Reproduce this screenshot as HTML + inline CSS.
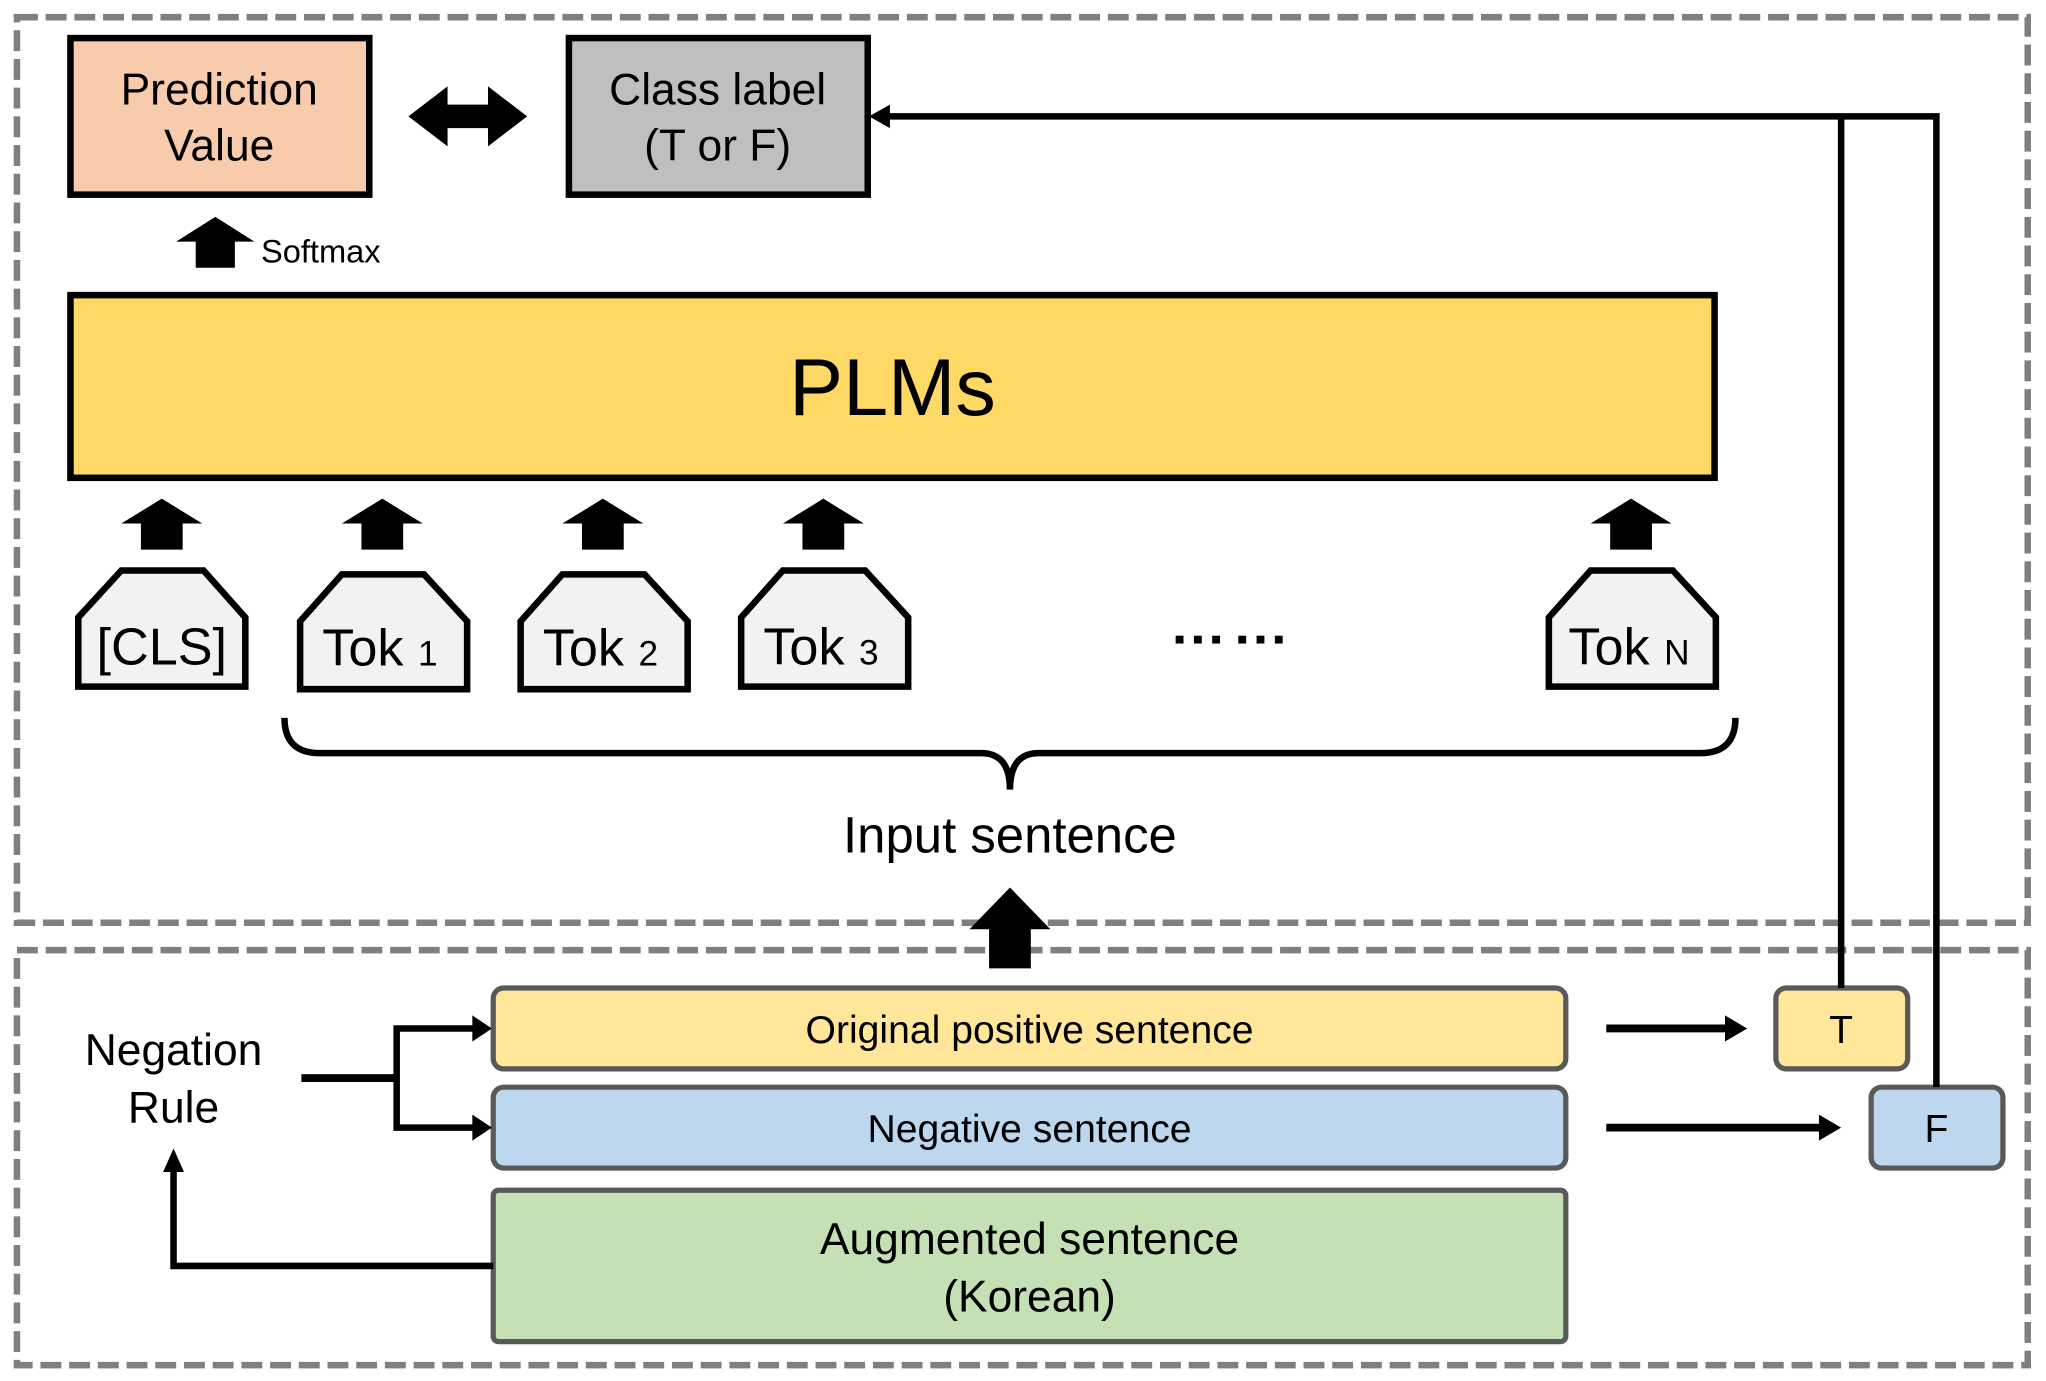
<!DOCTYPE html>
<html><head><meta charset="utf-8"><style>
html,body{margin:0;padding:0;background:#fff}
svg{display:block}
text{font-family:"Liberation Sans","DejaVu Sans",sans-serif;fill:#000}
</style></head><body>
<svg width="2046" height="1381" viewBox="0 0 1568 1058" xmlns="http://www.w3.org/2000/svg">
<rect x="0" y="0" width="1568" height="1058" fill="#fff"/>
<rect x="13" y="13" width="1541" height="694" fill="none" stroke="#7f7f7f" stroke-width="5" stroke-dasharray="16 6"/>
<rect x="13" y="728" width="1541" height="318" fill="none" stroke="#7f7f7f" stroke-width="5" stroke-dasharray="16 6"/>

<rect x="54" y="29" width="229" height="120" fill="#f8cbad" stroke="#000" stroke-width="5"/>
<text x="168" y="80" font-size="34" text-anchor="middle">Prediction</text>
<text x="168" y="123" font-size="34" text-anchor="middle">Value</text>
<rect x="436" y="29" width="229" height="120" fill="#bfbfbf" stroke="#000" stroke-width="5"/>
<text x="550" y="80" font-size="34" text-anchor="middle">Class label</text>
<text x="550" y="123" font-size="34" text-anchor="middle">(T or F)</text>
<polygon points="313,89 343,66 343,80 374,80 374,66 404,89 374,112 374,98 343,98 343,112" fill="#000"/>

<polygon points="165,166 195,185 180,185 180,205 150,205 150,185 135,185" fill="#000"/>
<text x="200" y="201" font-size="25">Softmax</text>

<rect x="54" y="226" width="1260" height="140" fill="#ffd966" stroke="#000" stroke-width="5"/>
<text x="684" y="318" font-size="62" text-anchor="middle">PLMs</text>

<g fill="#000">
<polygon points="124,382 155,401 140,401 140,421 108,421 108,401 93,401"/>
<polygon points="293,382 324,401 309,401 309,421 277,421 277,401 262,401"/>
<polygon points="462,382 493,401 478,401 478,421 446,421 446,401 431,401"/>
<polygon points="631,382 662,401 647,401 647,421 615,421 615,401 600,401"/>
<polygon points="1250,382 1281,401 1266,401 1266,421 1234,421 1234,401 1219,401"/>
</g>

<g fill="#f2f2f2" stroke="#000" stroke-width="5" stroke-linejoin="miter">
<polygon points="93,437 156,437 188,473 188,526 60,526 60,473"/>
<polygon points="262,440 325,440 358,476 358,528 230,528 230,476"/>
<polygon points="431,440 494,440 527,476 527,528 399,528 399,476"/>
<polygon points="600,437 663,437 696,473 696,526 568,526 568,473"/>
<polygon points="1219,437 1282,437 1315,473 1315,526 1187,526 1187,473"/>
</g>
<text x="124" y="509" font-size="40" text-anchor="middle">[CLS]</text>
<text x="247" y="510" font-size="40">Tok <tspan font-size="27">1</tspan></text>
<text x="416" y="510" font-size="40">Tok <tspan font-size="27">2</tspan></text>
<text x="585" y="509" font-size="40">Tok <tspan font-size="27">3</tspan></text>
<text x="1202" y="509" font-size="40">Tok <tspan font-size="27">N</tspan></text>
<g fill="#000">
<rect x="901" y="487" width="6" height="6"/><rect x="915" y="487" width="6" height="6"/><rect x="929" y="487" width="6" height="6"/>
<rect x="949" y="487" width="6" height="6"/><rect x="963" y="487" width="6" height="6"/><rect x="977" y="487" width="6" height="6"/>
</g>

<path d="M218,550 Q218,577 245,577 L752,577 Q774,577 774,605 Q774,577 796,577 L1303,577 Q1330,577 1330,550" fill="none" stroke="#000" stroke-width="5"/>
<text x="774" y="653" font-size="39" text-anchor="middle">Input sentence</text>

<polygon points="774,680 805,712 790,712 790,742 758,742 758,712 743,712" fill="#000"/>

<rect x="378" y="757" width="822" height="62" rx="8" fill="#ffe699" stroke="#595959" stroke-width="4"/>
<text x="789" y="799" font-size="30" text-anchor="middle">Original positive sentence</text>
<rect x="378" y="833" width="822" height="62" rx="8" fill="#bdd7ee" stroke="#595959" stroke-width="4"/>
<text x="789" y="875" font-size="30" text-anchor="middle">Negative sentence</text>
<rect x="378" y="912" width="822" height="116" rx="4" fill="#c5e0b4" stroke="#595959" stroke-width="4"/>
<text x="789" y="961" font-size="34" text-anchor="middle">Augmented sentence</text>
<text x="789" y="1005" font-size="34" text-anchor="middle">(Korean)</text>

<rect x="1361" y="757" width="101" height="62" rx="8" fill="#ffe699" stroke="#595959" stroke-width="4"/>
<text x="1411" y="799" font-size="30" text-anchor="middle">T</text>
<rect x="1434" y="833" width="101" height="62" rx="8" fill="#bdd7ee" stroke="#595959" stroke-width="4"/>
<text x="1484" y="875" font-size="30" text-anchor="middle">F</text>

<line x1="1231" y1="788" x2="1325" y2="788" stroke="#000" stroke-width="6"/>
<polygon points="1339,788 1322,778 1322,798" fill="#000"/>
<line x1="1231" y1="864" x2="1397" y2="864" stroke="#000" stroke-width="6"/>
<polygon points="1411,864 1394,854 1394,874" fill="#000"/>

<polyline points="1411,757 1411,89" fill="none" stroke="#000" stroke-width="5"/>
<polyline points="1484,833 1484,89 680,89" fill="none" stroke="#000" stroke-width="5"/>
<polygon points="666,89 682,80 682,98" fill="#000"/>

<text x="133" y="816" font-size="34" text-anchor="middle">Negation</text>
<text x="133" y="860" font-size="34" text-anchor="middle">Rule</text>
<polyline points="231,826 304,826" fill="none" stroke="#000" stroke-width="6"/>
<polyline points="364,788 304,788 304,864 364,864" fill="none" stroke="#000" stroke-width="5"/>
<polygon points="377,788 362,778 362,798" fill="#000"/>
<polygon points="377,864 362,854 362,874" fill="#000"/>
<polyline points="378,970 133,970 133,895" fill="none" stroke="#000" stroke-width="5"/>
<polygon points="133,880 125,898 141,898" fill="#000"/>
</svg>
</body></html>
